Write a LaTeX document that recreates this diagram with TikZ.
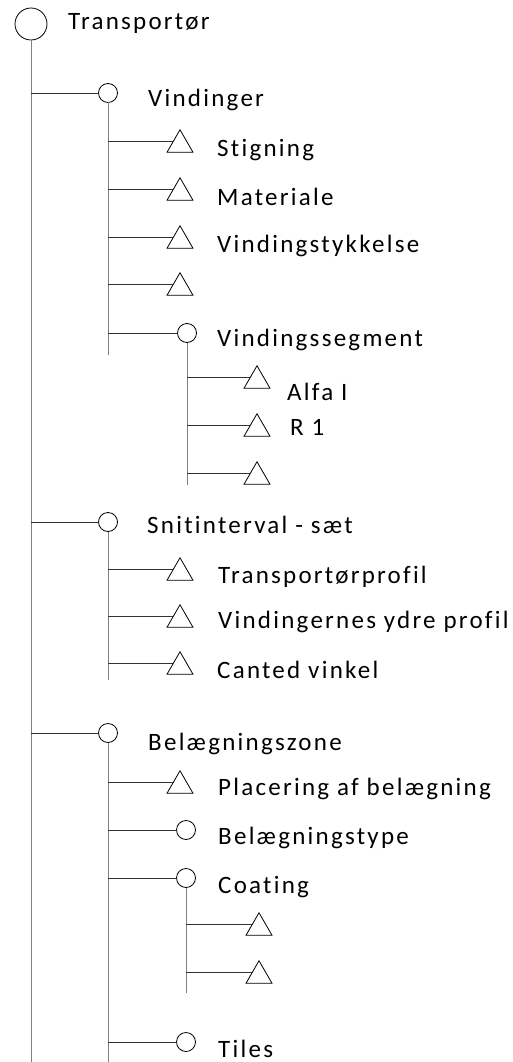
\documentclass[tikz,border=0pt]{standalone}
\usepackage{fontspec}
\setmainfont{Carlito}[LetterSpace=9,Ligatures=NoCommon]
\usetikzlibrary{shapes.geometric}
\begin{document}
\begin{tikzpicture}[x=1pt,y=-1pt,
  big/.style={circle,draw=black,minimum size=32pt,inner sep=0pt,outer sep=0pt,line width=0.8pt},
  sm/.style={circle,draw=black,minimum size=19pt,inner sep=0pt,outer sep=0pt,line width=0.8pt},
  tri/.style={regular polygon,regular polygon sides=3,draw=black,minimum size=30pt,inner sep=0pt,outer sep=0pt,line width=0.8pt},
  lbl/.style={anchor=base west,inner sep=0pt,font=\fontsize{25}{30}\selectfont},
  vl/.style={draw=black!50,line width=1pt},
  hl/.style={draw=black!80,line width=0.9pt}]
\useasboundingbox (0,0) rectangle (513,1062);
% nodes
\node[big] (root) at (31,24) {};
\node[lbl] (troot) at (68,30) {Transportør};
\node[sm] (vin) at (108,93) {};
\node[lbl] (tvin) at (148,107) {Vindinger};
\node[tri] (sti) at (180,144.75) {};
\node[lbl] (tsti) at (217,157) {Stigning};
\node[tri] (mat) at (180,192.75) {};
\node[lbl] (tmat) at (217,205) {Materiale};
\node[tri] (vt) at (180,240.75) {};
\node[lbl] (tvt) at (217,252) {Vindingstykkelse};
\node[tri] (ve) at (180,287.75) {};
\node[sm] (vs) at (187,333) {};
\node[lbl] (tvs) at (217,346) {Vindingssegment};
\node[tri] (alfa) at (257,380.75) {};
\node[lbl] (talfa) at (287,400) {Alfa I};
\node[tri] (r1) at (257,428.75) {};
\node[lbl] (tr1) at (290,435) {R 1};
\node[tri] (ae) at (257,476.75) {};
\node[sm] (sn) at (108,522) {};
\node[lbl] (tsn) at (147,533) {Snitinterval - sæt};
\node[tri] (tp) at (180,572.75) {};
\node[lbl] (ttp) at (218,583) {Transportørprofil};
\node[tri] (vyp) at (180,619.75) {};
\node[lbl] (tvyp) at (218,628) {Vindingernes ydre profil};
\node[tri] (cv) at (180,666.75) {};
\node[lbl] (tcv) at (217,678) {Canted vinkel};
\node[sm] (bz) at (108,733) {};
\node[lbl] (tbz) at (148,750) {Belægningszone};
\node[tri] (pl) at (180,785.75) {};
\node[lbl] (tpl) at (218,795) {Placering af belægning};
\node[sm] (bt) at (186,830) {};
\node[lbl] (tbt) at (218,844) {Belægningstype};
\node[sm] (co) at (186,878) {};
\node[lbl] (tco) at (218,893) {Coating};
\node[tri] (c1) at (259,927.75) {};
\node[tri] (c2) at (259,975.75) {};
\node[sm] (ti) at (186,1042) {};
\node[lbl] (tti) at (218,1057) {Tiles};
% vertical ends
\coordinate (rootend) at (31,1062);
\coordinate (vinend) at (108,355);
\coordinate (vsend) at (187,485);
\coordinate (snend) at (108,680);
\coordinate (bzend) at (108,1062);
\coordinate (coend) at (186,993);
% verticals
\draw[vl] (root.south) -- (rootend);
\draw[vl] (vin.south) -- (vinend);
\draw[vl] (vs.south) -- (vsend);
\draw[vl] (sn.south) -- (snend);
\draw[vl] (bz.south) -- (bzend);
\draw[vl] (co.south) -- (coend);
% horizontals
\draw[hl] (root.south |- vin.west) -- (vin.west);
\draw[hl] (root.south |- sn.west) -- (sn.west);
\draw[hl] (root.south |- bz.west) -- (bz.west);
\foreach \t in {sti,mat,vt,ve} \draw[hl] (vin.south |- \t.side 1) -- (\t.side 1);
\draw[hl] (vin.south |- vs.west) -- (vs.west);
\foreach \t in {alfa,r1,ae} \draw[hl] (vs.south |- \t.side 1) -- (\t.side 1);
\foreach \t in {tp,vyp,cv} \draw[hl] (sn.south |- \t.side 1) -- (\t.side 1);
\draw[hl] (bz.south |- pl.side 1) -- (pl.side 1);
\draw[hl] (bz.south |- bt.west) -- (bt.west);
\draw[hl] (bz.south |- co.west) -- (co.west);
\draw[hl] (bz.south |- ti.west) -- (ti.west);
\foreach \t in {c1,c2} \draw[hl] (co.south |- \t.side 1) -- (\t.side 1);
\end{tikzpicture}
\end{document}
